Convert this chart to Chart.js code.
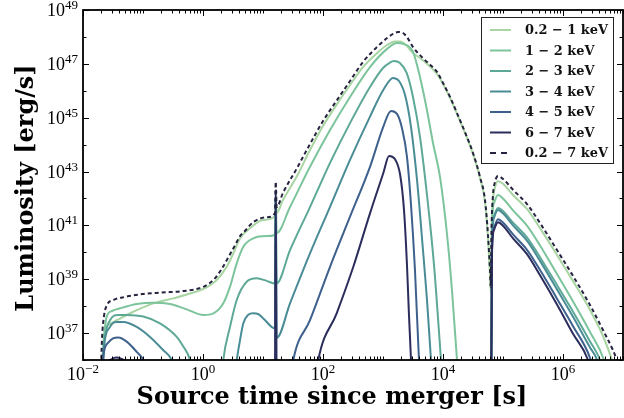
<!DOCTYPE html>
<html>
<head>
<meta charset="utf-8">
<script src="https://cdn.jsdelivr.net/npm/chart.js@4.4.1/dist/chart.umd.min.js"></script>
<style>
  html, body { margin: 0; padding: 0; background: #fff; }
  canvas { display: block; }
</style>
</head>
<body>
<canvas id="chart" width="624" height="418"></canvas>
<script>
// energy bands (legend order) and colours
const bandLabels = ['0.2 − 1 keV', '1 − 2 keV', '2 − 3 keV', '3 − 4 keV', '4 − 5 keV', '6 − 7 keV', '0.2 − 7 keV'];
const bandColors = ['#a8d5a2', '#7cc49b', '#5da896', '#4a8c96', '#3d608c', '#2b2d5c', '#25233f'];

// axis tick labels (powers of ten)
const xTickExps = [-2, 0, 2, 4, 6];
const yTickExps = [37, 39, 41, 43, 45, 47, 49];

// time since merger [s] / luminosity [erg/s]
const t_02_1 = [0.0200, 0.0218, 0.0233, 0.0282, 0.0365, 0.0689, 0.148, 0.32, 0.69, 1.15, 1.69, 2.48, 3.2, 4.14, 6.07, 10.1, 15.8, 16.3, 16.9, 21.5, 36.9, 60.7, 100, 171, 282, 464, 794, 1170, 1580, 1920, 2420, 3160, 4140, 5410, 7940, 1.0e4, 1.31e4, 1.71e4, 2.51e4, 3.16e4, 4.14e4, 5.01e4, 5.62e4, 6.07e4, 6.24e4, 6.43e4, 6.81e4, 7.36e4, 8.25e4, 1.0e5, 1.47e5, 2.51e5, 4.14e5, 7.94e5, 1.47e6, 2.82e6, 4.64e6, 6.56e6, 7.7e6];
const L_02_1 = [3e35, 3.1e36, 1.3e37, 2.2e37, 3.0e37, 6.2e37, 1.27e38, 1.95e38, 3.2e38, 5.0e38, 9.3e38, 2.9e39, 9.1e39, 3.3e40, 7.8e40, 1.58e41, 2.2e41, 1e42, 2.9e41, 8.7e41, 6.8e42, 6.3e43, 4.9e44, 3.2e45, 1.64e46, 7.6e46, 2.5e47, 5.0e47, 6.8e47, 6.8e47, 5.0e47, 2.5e47, 1.66e47, 1.0e47, 4.2e46, 1.8e46, 5.5e45, 1.38e45, 1.8e44, 4.5e43, 5.8e42, 7.4e41, 3.4e40, 1.45e39, 3.3e38, 4.4e40, 8.7e41, 2.6e42, 4.4e42, 3.5e42, 1.34e42, 4.1e41, 7.9e40, 8.0e39, 8.5e38, 7.2e37, 7.8e36, 1e36, 3e35];

const t_1_2 = [0.0203, 0.0218, 0.0248, 0.0304, 0.0414, 0.0785, 0.148, 0.282, 0.535, 1.01, 1.49, 2.18, 2.82, 3.65, 4.7, 6.9, 11.5, 15.8, 16.3, 16.9, 28.2, 60.7, 131, 282, 607, 1170, 1710, 2150, 3160, 4140, 5410, 6810, 8910, 1.17e4, 1.41e4, 1.71e4, 1.92e4, 6.26e4, 6.56e4, 7.08e4, 8.25e4, 1.0e5, 1.47e5, 2.51e5, 4.14e5, 7.94e5, 1.47e6, 2.82e6, 4.82e6, 6.07e6];
const L_1_2 = [1e35, 3.1e36, 4.0e37, 6.6e37, 8.3e37, 1.2e38, 1.34e38, 1.2e38, 7.6e37, 4.7e37, 5.4e37, 1.27e38, 5.3e38, 3.9e39, 1.6e40, 3.3e40, 4.0e40, 4.4e40, 1e42, 5.2e40, 4.8e41, 1.5e43, 3.5e44, 5.9e45, 7.6e46, 3.6e47, 5.9e47, 5.5e47, 2.8e47, 3.2e46, 1.9e45, 1.15e44, 6.3e42, 4.4e40, 4.0e38, 1e36, 3e34, 1e33, 9.5e40, 6.8e41, 1.35e42, 1.0e42, 3.6e41, 9.8e40, 1.8e40, 1.56e39, 1.5e38, 1.1e37, 1e36, 1.2e35];

const t_2_3 = [0.0203, 0.0224, 0.0282, 0.0383, 0.0535, 0.101, 0.192, 0.365, 0.464, 0.607, 0.736, 1.92, 2.18, 2.82, 3.65, 5.35, 7.85, 11.5, 15.8, 16.3, 16.9, 28.2, 60.7, 89.1, 131, 282, 607, 1000, 1310, 1520, 1920, 2480, 3160, 4140, 5410, 7080, 9260, 1.04e4, 6.26e4, 6.56e4, 7.08e4, 8.25e4, 1.0e5, 1.47e5, 2.51e5, 4.14e5, 7.94e5, 1.47e6, 2.82e6, 4.14e6, 5.4e6];
const L_2_3 = [1e35, 3.6e36, 3.0e37, 4.7e37, 4.7e37, 4.1e37, 2.3e37, 7.2e36, 3.3e36, 1.0e36, 1e35, 3e34, 1.0e36, 1.7e37, 1.7e38, 8.1e38, 1.08e39, 8.7e38, 7.0e38, 1e42, 7.0e38, 1.2e40, 4.8e41, 3.2e42, 2.1e43, 6.3e44, 1.38e46, 7.0e46, 1.12e47, 1.28e47, 1.07e47, 4.6e46, 5.9e45, 1.9e44, 1.35e42, 3.4e39, 1e36, 3e34, 1e33, 2.9e40, 2.2e41, 4.4e41, 3.4e41, 1.26e41, 3.6e40, 6.6e39, 6.1e38, 6.2e37, 4.9e36, 1e36, 1.2e35];

const t_3_4 = [0.0203, 0.0224, 0.0282, 0.0355, 0.047, 0.0785, 0.131, 0.218, 0.301, 0.355, 3.16, 3.65, 4.14, 4.7, 5.62, 6.9, 8.25, 10.1, 15.8, 16.3, 16.9, 28.2, 60.7, 131, 282, 607, 1010, 1470, 1850, 2330, 2930, 3690, 4640, 5410, 6310, 7080, 6.26e4, 6.56e4, 7.08e4, 8.25e4, 1.0e5, 1.47e5, 2.51e5, 4.14e5, 7.94e5, 1.47e6, 2.82e6, 3.69e6, 4.64e6];
const L_3_4 = [1e35, 3.3e36, 1.7e37, 2.6e37, 2.6e37, 1.7e37, 7.2e36, 2.3e36, 1e36, 3e35, 1e35, 1e36, 5.5e36, 2.3e37, 4.7e37, 5.4e37, 5.1e37, 3.5e37, 1.5e37, 1e42, 6.6e36, 1.27e38, 9.1e39, 4.9e41, 2.7e43, 1.1e45, 1.07e46, 3.0e46, 2.3e46, 6.9e45, 4.5e44, 4.9e42, 1.2e40, 1.7e38, 1e36, 3e34, 1e33, 2.4e40, 1.9e41, 3.7e41, 2.8e41, 1.0e41, 2.7e40, 4.8e39, 4.2e38, 4.0e37, 2.9e36, 1e36, 1.2e35];

const t_4_5 = [0.0203, 0.0224, 0.0261, 0.0316, 0.0388, 0.0535, 0.0785, 0.101, 0.121, 15.8, 16.3, 16.9, 28.2, 32, 60.7, 131, 282, 607, 1010, 1360, 1710, 2070, 2510, 2930, 3410, 3980, 4470, 6.26e4, 6.56e4, 7.08e4, 8.25e4, 1.0e5, 1.47e5, 2.51e5, 4.14e5, 7.94e5, 1.47e6, 2.82e6, 3.55e6];
const L_4_5 = [1e35, 2.0e36, 4.3e36, 6.3e36, 6.8e36, 4.8e36, 2.0e36, 1e36, 3e35, 1e33, 1e42, 1e33, 1.2e35, 1e36, 3.0e37, 2.9e39, 2.1e41, 1.5e43, 4.6e44, 1.78e45, 1.38e45, 4.1e44, 3.5e43, 5.7e41, 2.2e39, 1e36, 3e34, 1e33, 1.2e40, 8.0e40, 1.7e41, 1.28e41, 4.6e40, 1.24e40, 2.2e39, 1.9e38, 1.8e37, 1.2e36, 1.8e35];

const t_6_7 = [0.0242, 0.0261, 0.0304, 0.0355, 0.043, 0.052, 0.0656, 15.8, 16.3, 16.9, 73.6, 83.5, 169, 320, 607, 1010, 1260, 1580, 1920, 2240, 2510, 2710, 2930, 3160, 6.26e4, 6.56e4, 7.08e4, 8.25e4, 1.0e5, 1.47e5, 2.51e5, 4.14e5, 7.94e5, 1.47e6, 2.61e6, 3.3e6];
const L_6_7 = [1e35, 6.6e35, 1.09e36, 1.23e36, 1.13e36, 8.5e35, 3e35, 1e33, 2.0e42, 1e33, 1.2e35, 1e36, 5.4e37, 2.9e39, 2.8e41, 8.6e42, 3.8e43, 2.9e43, 8.1e42, 3.7e41, 3.4e39, 4.7e37, 1e36, 3e34, 1e33, 1.0e40, 6.7e40, 1.3e41, 9.7e40, 3.3e40, 8.5e39, 1.4e39, 1.15e38, 9.4e36, 1e36, 1.2e35];

const t_total = [0.0196, 0.0207, 0.0224, 0.0251, 0.0325, 0.0501, 0.0962, 0.207, 0.447, 0.736, 1.08, 1.58, 2.07, 2.68, 3.45, 4.14, 5.0, 6.9, 11.5, 15.8, 16.3, 16.9, 21.5, 36.9, 60.7, 100, 171, 282, 464, 794, 1170, 1470, 1780, 2150, 2510, 3160, 4140, 5410, 7940, 1.0e4, 1.31e4, 1.71e4, 2.51e4, 3.16e4, 4.14e4, 5.01e4, 5.62e4, 6.07e4, 6.24e4, 6.43e4, 6.81e4, 7.36e4, 8.25e4, 1.0e5, 1.47e5, 2.51e5, 4.14e5, 7.94e5, 1.47e6, 2.82e6, 4.64e6, 6.81e6, 8.91e6];
const L_total = [1e35, 5.5e36, 4.3e37, 1.1e38, 1.7e38, 2.2e38, 2.8e38, 3.2e38, 3.6e38, 4.2e38, 5.6e38, 1.07e39, 2.5e39, 6.9e39, 1.9e40, 4.0e40, 6.2e40, 1.33e41, 2.0e41, 2.8e41, 4.2e42, 4.8e41, 1.6e42, 1.35e43, 1.05e44, 7.5e44, 4.5e45, 2.3e46, 1.17e47, 4.2e47, 9.1e47, 1.29e48, 1.52e48, 1.4e48, 9.9e47, 4.2e47, 2.1e47, 1.17e47, 5.0e46, 1.95e46, 5.9e45, 1.49e45, 1.9e44, 4.9e43, 6.3e42, 8.7e41, 4.4e40, 2.2e39, 5.1e38, 6.7e40, 1.34e42, 4.1e42, 6.8e42, 5.3e42, 2.1e42, 6.2e41, 1.22e41, 1.21e40, 1.32e39, 1.1e38, 1.3e37, 2.3e36, 5e35];

const times = [t_02_1, t_1_2, t_2_3, t_3_4, t_4_5, t_6_7, t_total];
const lums = [L_02_1, L_1_2, L_2_3, L_3_4, L_4_5, L_6_7, L_total];

const datasets = times.map((t, i) => ({
  label: bandLabels[i],
  data: t.map((v, k) => ({ x: v, y: lums[i][k] })),
  borderColor: bandColors[i],
  borderWidth: 2,
  borderDash: i === 6 ? [4, 3] : [],
  borderJoinStyle: 'round',
  cubicInterpolationMode: 'monotone',
  pointRadius: 0,
  order: 6 - i   // total on top, hardest band above softer ones
}));

const TICK_FONT = '"Liberation Serif", serif';
const BOLD_FONT = '"DejaVu Serif", serif';

// "10" with a raised exponent
function drawPow(ctx, exp, px, py, align) {
  const sup = String(exp).replace('-', '\u2212');
  ctx.font = '18px ' + TICK_FONT;
  const wb = ctx.measureText('10').width;
  ctx.font = '13px ' + TICK_FONT;
  const ws = ctx.measureText(sup).width;
  const x0 = align === 'right' ? px - wb - ws : px - (wb + ws) / 2;
  ctx.font = '18px ' + TICK_FONT;
  ctx.fillText('10', x0, py);
  ctx.font = '13px ' + TICK_FONT;
  ctx.fillText(sup, x0 + wb, py - 7);
}

function fitFont(ctx, text, width) {
  ctx.font = 'bold 100px ' + BOLD_FONT;
  return 100 * width / ctx.measureText(text).width;
}

const frame = {
  id: 'frame',
  afterDraw(chart) {
    const { ctx, chartArea: a, scales } = chart;
    const x = scales.x, y = scales.y;
    ctx.save();
    ctx.strokeStyle = '#000';
    ctx.fillStyle = '#000';
    ctx.lineWidth = 1;

    const seg = (x1, y1, x2, y2) => { ctx.beginPath(); ctx.moveTo(x1, y1); ctx.lineTo(x2, y2); ctx.stroke(); };

    // x ticks, inward on bottom and top
    for (let d = -2; d <= 7; d++) {
      for (let s = 1; s <= 9; s++) {
        const v = s * Math.pow(10, d);
        if (v < x.min * 0.999 || v > x.max * 1.001) continue;
        const px = Math.round(x.getPixelForValue(v)) + 0.5;
        const len = (s === 1 && xTickExps.includes(d)) ? 6 : 3.5;
        seg(px, a.bottom, px, a.bottom - len);
        seg(px, a.top, px, a.top + len);
      }
    }
    // y ticks, every decade
    for (let d = 36; d <= 49; d++) {
      const py = Math.round(y.getPixelForValue(Math.pow(10, d))) + 0.5;
      const len = yTickExps.includes(d) ? 6 : 3.5;
      seg(a.left, py, a.left + len, py);
      seg(a.right, py, a.right - len, py);
    }

    // frame
    ctx.lineWidth = 1.8;
    ctx.strokeRect(a.left, a.top, a.right - a.left, a.bottom - a.top);

    // tick labels
    ctx.textAlign = 'left';
    ctx.textBaseline = 'alphabetic';
    xTickExps.forEach(e => drawPow(ctx, e, x.getPixelForValue(Math.pow(10, e)), a.bottom + 20, 'center'));
    yTickExps.forEach(e => drawPow(ctx, e, a.left - 5, y.getPixelForValue(Math.pow(10, e)) + 6, 'right'));

    // axis titles
    const xTitle = 'Source time since merger [s]';
    const fs = fitFont(ctx, xTitle, 391);
    ctx.font = 'bold ' + fs + 'px ' + BOLD_FONT;
    ctx.textAlign = 'center';
    ctx.fillText(xTitle, 332, 404);
    ctx.save();
    ctx.translate(33, 188);
    ctx.rotate(-Math.PI / 2);
    ctx.fillText('Luminosity [erg/s]', 0, 0);
    ctx.restore();

    // legend
    const bx = 481, by = 17, bw = 132, bh = 146;
    ctx.fillStyle = '#fff';
    ctx.fillRect(bx, by, bw, bh);
    ctx.lineWidth = 1;
    ctx.strokeStyle = '#222';
    ctx.strokeRect(bx + 0.5, by + 0.5, bw, bh);
    const lfs = fitFont(ctx, bandLabels[0], 83);
    ctx.font = 'bold ' + lfs + 'px ' + BOLD_FONT;
    ctx.textAlign = 'left';
    ctx.textBaseline = 'middle';
    bandLabels.forEach((lab, i) => {
      const ry = 30 + i * 20.5;
      ctx.strokeStyle = bandColors[i];
      ctx.lineWidth = 2;
      ctx.setLineDash(i === 6 ? [6, 5] : []);
      seg(490, ry, 511, ry);
      ctx.setLineDash([]);
      ctx.fillStyle = '#111';
      ctx.fillText(lab, 525, ry + 1);
    });
    ctx.restore();
  }
};

new Chart(document.getElementById('chart'), {
  type: 'line',
  data: { datasets },
  options: {
    responsive: false,
    animation: false,
    devicePixelRatio: 1,
    layout: { padding: { left: 83, right: 1, top: 10, bottom: 58 } },
    scales: {
      x: { type: 'logarithmic', min: 1e-2, max: 1e7, display: false },
      y: { type: 'logarithmic', min: 1e36, max: 1e49, display: false }
    },
    plugins: { legend: { display: false }, tooltip: { enabled: false } },
    elements: { line: { tension: 0 }, point: { radius: 0 } }
  },
  plugins: [frame]
});
</script>
</body>
</html>
